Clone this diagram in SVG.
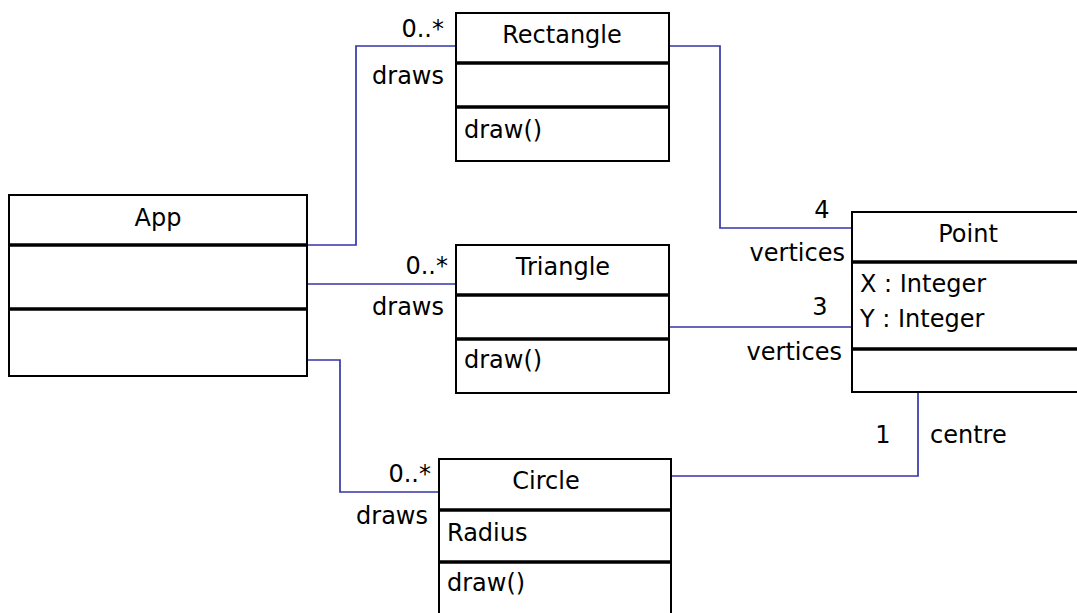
<svg xmlns="http://www.w3.org/2000/svg" width="1077" height="613" viewBox="0 0 1077 613">
<style>
.box{fill:#fff;stroke:#000;stroke-width:2}
.div{stroke:#000;stroke-width:3.5}
.con{fill:none;stroke:#3535a6;stroke-width:1.7}
text{font-family:"DejaVu Sans","Liberation Sans",sans-serif;font-size:24px;fill:#000}
.c{text-anchor:middle}
.r{text-anchor:end}
</style>
<rect width="1077" height="613" fill="#fff"/>
<g id="connectors">
<polyline class="con" points="307,245 356,245 356,46 456,46"/>
<polyline class="con" points="669,46 720,46 720,228 852,228"/>
<polyline class="con" points="307,284 456,284"/>
<polyline class="con" points="669,327 852,327"/>
<polyline class="con" points="307,360 340,360 340,492 439,492"/>
<polyline class="con" points="671,476 918,476 918,392"/>
<text class="r" x="444" y="37">0..*</text>
<text class="r" x="444" y="84">draws</text>
<text class="r" x="448" y="274">0..*</text>
<text class="r" x="444" y="315">draws</text>
<text class="r" x="431" y="482">0..*</text>
<text class="r" x="428" y="524">draws</text>
<text class="c" x="822" y="218">4</text>
<text class="r" x="845" y="261">vertices</text>
<text class="c" x="820" y="315">3</text>
<text class="r" x="842" y="360">vertices</text>
<text class="c" x="883" y="443">1</text>
<text x="930" y="443">centre</text>
</g>
<g id="app">
<rect class="box" x="9" y="195" width="298" height="181"/>
<line class="div" x1="9" y1="245" x2="307" y2="245"/>
<line class="div" x1="9" y1="309" x2="307" y2="309"/>
<text class="c" x="158" y="226">App</text>
</g>
<g id="rectangle">
<rect class="box" x="456" y="13" width="213" height="148"/>
<line class="div" x1="456" y1="63" x2="669" y2="63"/>
<line class="div" x1="456" y1="107" x2="669" y2="107"/>
<text class="c" x="562" y="43">Rectangle</text>
<text x="464" y="138">draw()</text>
</g>
<g id="triangle">
<rect class="box" x="456" y="245" width="213" height="148"/>
<line class="div" x1="456" y1="295" x2="669" y2="295"/>
<line class="div" x1="456" y1="339" x2="669" y2="339"/>
<text class="c" x="563" y="275">Triangle</text>
<text x="464" y="368">draw()</text>
</g>
<g id="point">
<rect class="box" x="852" y="212" width="240" height="180"/>
<line class="div" x1="852" y1="262" x2="1080" y2="262"/>
<line class="div" x1="852" y1="349" x2="1080" y2="349"/>
<text class="c" x="968" y="242">Point</text>
<text x="860" y="292">X : Integer</text>
<text x="860" y="327">Y : Integer</text>
</g>
<g id="circle">
<rect class="box" x="439" y="459" width="232" height="170"/>
<line class="div" x1="439" y1="510" x2="671" y2="510"/>
<line class="div" x1="439" y1="562" x2="671" y2="562"/>
<text class="c" x="546" y="489">Circle</text>
<text x="447" y="541">Radius</text>
<text x="447" y="591">draw()</text>
</g>
</svg>
